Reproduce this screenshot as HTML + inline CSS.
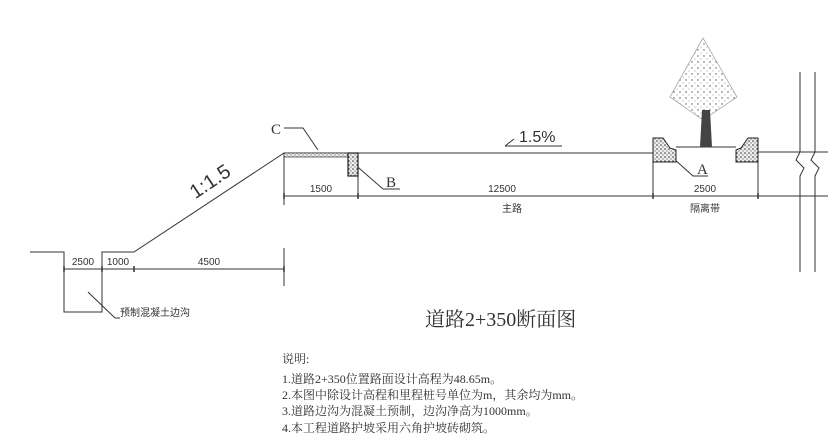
<!DOCTYPE html>
<html><head><meta charset="utf-8"><style>
body{margin:0;background:#fff;width:828px;height:442px;overflow:hidden}
svg{display:block}
text{font-family:"Liberation Sans","Noto Sans CJK SC",sans-serif;fill:#333}
text.serif{font-family:"Liberation Serif","Noto Serif CJK SC",serif}
</style></head><body>
<svg width="828" height="442" viewBox="0 0 828 442">
<defs>
<pattern id="dots" width="6" height="6" patternUnits="userSpaceOnUse"><rect width="6" height="6" fill="#fff"/><circle cx="2" cy="2" r="0.7" fill="#555"/><circle cx="5" cy="5" r="0.5" fill="#777"/></pattern>
<pattern id="conc" width="4" height="4" patternUnits="userSpaceOnUse"><rect width="4" height="4" fill="#eee"/><circle cx="1" cy="1" r="0.8" fill="#333"/><circle cx="3" cy="3" r="0.6" fill="#555"/></pattern>
</defs>
<g stroke="#333" stroke-width="1" fill="none">
<polyline points="30,252 64,252 64,312 102,312 102,252 134,252 284,153 655,153"/>
<line x1="758" y1="152" x2="828" y2="152"/>
<line x1="676" y1="147" x2="736" y2="147"/>
<line x1="284" y1="153" x2="284" y2="205"/>
<line x1="284" y1="248" x2="284" y2="286"/>
<line x1="653" y1="138" x2="653" y2="198"/>
<line x1="758" y1="138" x2="758" y2="198"/>
<line x1="358" y1="176" x2="358" y2="198"/>
<line x1="64" y1="269" x2="284" y2="269"/>
<line x1="284" y1="196" x2="828" y2="196"/>
<polyline points="800,72 800,152 796,160 804,168 800,176 800,272"/>
<polyline points="815,72 815,152 811,160 819,168 815,176 815,272"/>
<polyline points="284,128 303,128 318,150"/>
<polyline points="352,162 383,189 400,189"/>
<polyline points="664,150 693,176 708,176"/>
<polyline points="88,292 115,318 120,318"/>
<polyline points="505,146 562,146"/>
<line x1="505" y1="146" x2="514" y2="139"/>
</g>
<g stroke="#333" stroke-width="1.5">
<line x1="64" y1="266" x2="64" y2="272"/><line x1="102" y1="266" x2="102" y2="272"/><line x1="134" y1="266" x2="134" y2="272"/><line x1="284" y1="266" x2="284" y2="272"/>
<line x1="284" y1="193" x2="284" y2="199"/><line x1="358" y1="193" x2="358" y2="199"/><line x1="653" y1="193" x2="653" y2="199"/><line x1="758" y1="193" x2="758" y2="199"/>
</g>
<rect x="284" y="153" width="64" height="4" fill="url(#conc)" stroke="#333" stroke-width="0.7"/>
<rect x="348" y="153" width="10" height="23" fill="url(#conc)" stroke="#222" stroke-width="1.2"/>
<polygon points="653,138 663,138 670,148 676,150 676,162 653,162" fill="url(#conc)" stroke="#222"/>
<polygon points="758,138 748,138 741,148 736,150 736,162 758,162" fill="url(#conc)" stroke="#222"/>
<polygon points="703,38 737,97 703,120 670,97" fill="url(#dots)" stroke="#999" stroke-width="0.7"/>
<polygon points="700,147 712,147 710,110 702,110" fill="#444"/>
<g font-size="10">
<text x="83" y="265" text-anchor="middle">2500</text>
<text x="118" y="265" text-anchor="middle">1000</text>
<text x="209" y="265" text-anchor="middle">4500</text>
<text x="321" y="192" text-anchor="middle">1500</text>
<text x="502" y="192" text-anchor="middle">12500</text>
<text x="705" y="192" text-anchor="middle">2500</text>
<text x="512" y="212" text-anchor="middle">主路</text>
<text x="705" y="212" text-anchor="middle">隔离带</text>
<text x="120" y="316">预制混凝土边沟</text>
</g>
<text x="519" y="142" font-size="16">1.5%</text>
<text x="190" y="198" font-size="20" transform="rotate(-34 195 190)">1:1.5</text>
<text x="271" y="134" font-size="15" class="serif">C</text>
<text x="386" y="187" font-size="15" class="serif">B</text>
<text x="697" y="174" font-size="15" class="serif">A</text>
<text x="425" y="326" font-size="20" class="serif">道路2+350断面图</text>
<g font-size="12">
<text class="serif" x="282" y="363">说明:</text>
<text class="serif" x="282" y="383">1.道路2+350位置路面设计高程为48.65m。</text>
<text class="serif" x="282" y="399">2.本图中除设计高程和里程桩号单位为m，其余均为mm。</text>
<text class="serif" x="282" y="415">3.道路边沟为混凝土预制，边沟净高为1000mm。</text>
<text class="serif" x="282" y="432">4.本工程道路护坡采用六角护坡砖砌筑。</text>
</g>
</svg>
</body></html>
